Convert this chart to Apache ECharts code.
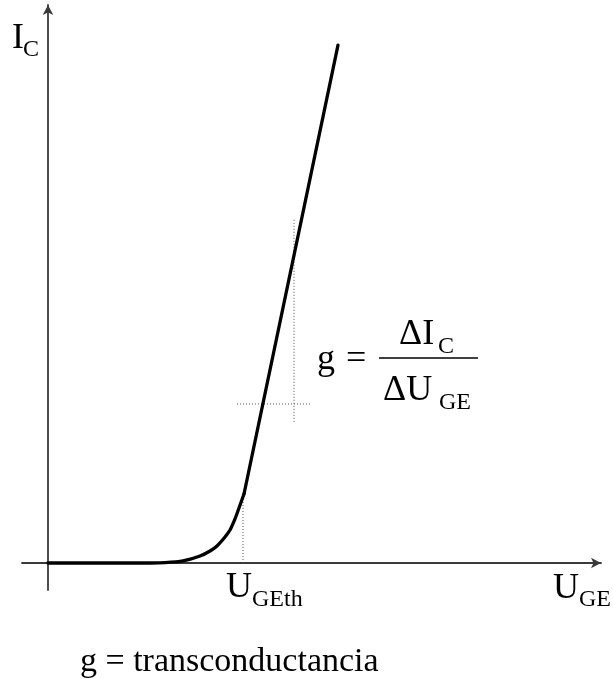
<!DOCTYPE html>
<html>
<head>
<meta charset="utf-8">
<script src="https://cdn.jsdelivr.net/npm/echarts@6/dist/echarts.min.js"></script>
<style>
  html, body { margin: 0; padding: 0; background: #fff; }
  #chart { width: 613px; height: 679px; }
</style>
</head>
<body>
<div id="chart"></div>
<script>
// Transfer characteristic I_C(U_GE): exponential knee near the threshold,
// then the linear (transconductance) region.
const kneeU = [0, 2.04, 2.34, 2.70, 3.04, 3.24, 3.38, 3.54, 3.64, 3.74, 3.82, 3.92];
const kneeI = [0, 0, 0.005, 0.036, 0.125, 0.215, 0.305, 0.466, 0.59, 0.789, 0.986, 1.237];
const linearU = [3.92, 5.80];
const linearI = [1.237, 9.28];

// Threshold voltage marker (from the axis up to the curve)
const thresholdU = [3.9, 3.9];
const thresholdI = [0, 1.1];

// Increment construction: horizontal ΔU_GE guide and vertical ΔI_C guide
const deltaU_U = [3.78, 5.28];
const deltaU_I = [2.85, 2.85];
const deltaI_U = [4.92, 4.92];
const deltaI_I = [2.53, 6.15];

const zip = (xs, ys) => xs.map((x, i) => [x, ys[i]]);

const SERIF = '"Liberation Serif", "Times New Roman", serif';

// text placed by its alphabetic baseline
function txt(s, x, baseline, size) {
  return {
    type: 'text',
    left: x,
    top: baseline - size * 0.72,
    style: { text: s, font: size + 'px ' + SERIF, fill: '#000' }
  };
}

const chart = echarts.init(document.getElementById('chart'), null, { renderer: 'canvas' });

const guideStyle = { color: '#555', width: 1, type: [1, 2] };

chart.setOption({
  animation: false,
  backgroundColor: '#fff',
  grid: { left: 22, right: 12, top: 5, bottom: 89, containLabel: false },
  xAxis: {
    type: 'value', min: -0.52, max: 11.06,
    axisLine: { onZero: true, symbol: ['none', 'arrow'], symbolSize: [8, 10],
      lineStyle: { color: '#3a3a3a', width: 1.8 } },
    axisTick: { show: false }, axisLabel: { show: false }, splitLine: { show: false }
  },
  yAxis: {
    type: 'value', min: -0.484, max: 10,
    axisLine: { onZero: true, symbol: ['none', 'arrow'], symbolSize: [8, 10],
      lineStyle: { color: '#3a3a3a', width: 1.8 } },
    axisTick: { show: false }, axisLabel: { show: false }, splitLine: { show: false }
  },
  series: [
    { type: 'line', data: zip(thresholdU, thresholdI), showSymbol: false, lineStyle: guideStyle, z: 1 },
    { type: 'line', data: zip(deltaU_U, deltaU_I), showSymbol: false, lineStyle: guideStyle, z: 1 },
    { type: 'line', data: zip(deltaI_U, deltaI_I), showSymbol: false, lineStyle: guideStyle, z: 1 },
    { type: 'line', data: zip(kneeU, kneeI), smooth: 0.2, showSymbol: false,
      lineStyle: { color: '#000', width: 3.3, cap: 'round', join: 'round' }, z: 3 },
    { type: 'line', data: zip(linearU, linearI), showSymbol: false,
      lineStyle: { color: '#000', width: 3.3, cap: 'round' }, z: 3 }
  ],
  graphic: [
    txt('I', 12, 46, 36), txt('C', 23, 55, 24),
    txt('U', 226, 595, 36), txt('GEth', 252, 605, 24),
    txt('U', 553, 596, 36), txt('GE', 579, 605, 24),
    txt('g', 317, 367, 36), txt('=', 346, 367, 36),
    txt('ΔI', 399, 342, 36), txt('C', 438, 352, 24),
    { type: 'line', shape: { x1: 379, y1: 358, x2: 478, y2: 358 },
      style: { stroke: '#000', lineWidth: 1.5 } },
    txt('ΔU', 383, 398, 36), txt('GE', 439, 408, 24),
    txt('g = transconductancia', 80, 670, 34)
  ]
});
</script>
</body>
</html>
